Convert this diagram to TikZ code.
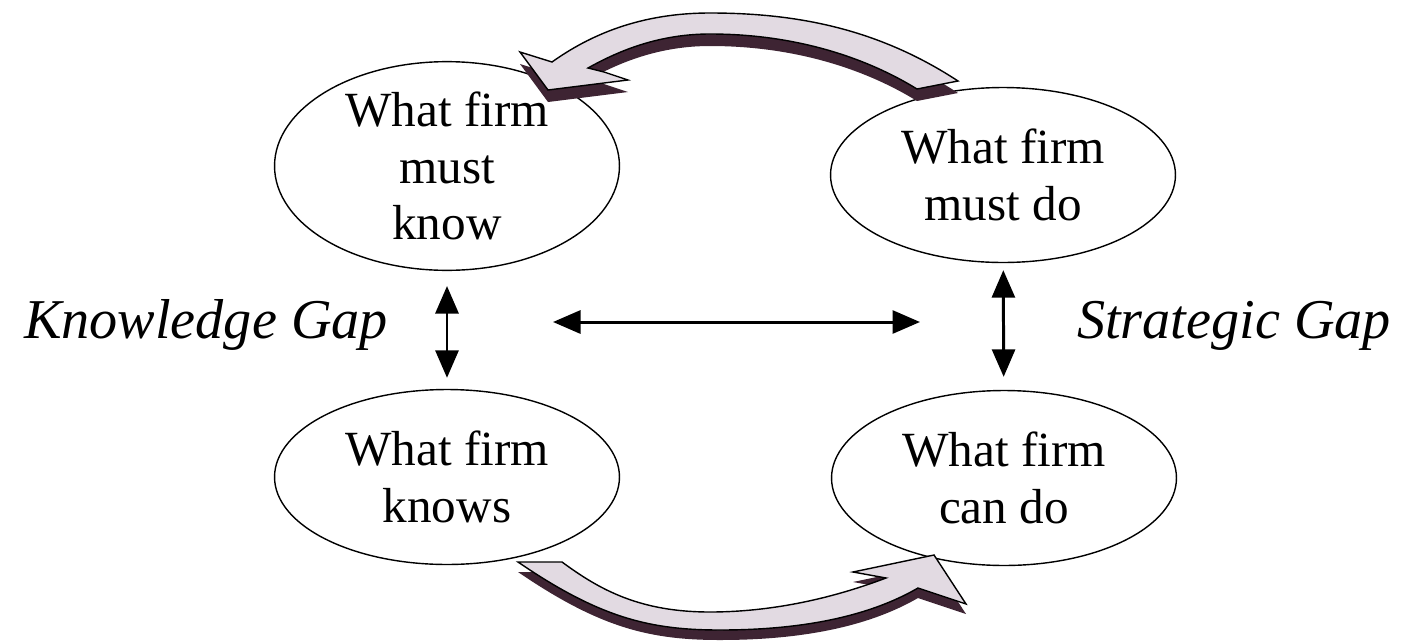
\documentclass[tikz,border=0pt]{standalone}
\usepackage{fontspec}
\setmainfont{Liberation Serif}
\usetikzlibrary{arrows.meta,shapes,positioning}
\usepackage{xcolor}
\definecolor{bandfill}{HTML}{E2DAE2}
\definecolor{bandshade}{HTML}{3E2433}

% outlines of the two curved arrows (pixel units)
\newcommand{\upperarc}{(958,81) .. controls (880,30) and (800,13) .. (710,13) .. controls (640,13) and (590,35) .. (552,62) -- (520,52) -- (548,90) -- (628,80) -- (604,72) -- (588,68) .. controls (620,50) and (660,34) .. (710,34) .. controls (800,34) and (870,60) .. (917,89) -- cycle}
\newcommand{\lowerarc}{(518,562) .. controls (600,618) and (650,630) .. (720,630) .. controls (820,630) and (880,610) .. (918,588) -- (966,604) -- (934,555) -- (853,572) -- (886,578) .. controls (820,603) and (760,612) .. (710,612) .. controls (640,612) and (600,590) .. (562,562) -- cycle}

\begin{document}
\begin{tikzpicture}[x=0.02cm, y=-0.02cm,
    every node/.style={font=\fontsize{28}{32}\selectfont},
    firm/.style={draw, ellipse, line width=0.8pt, minimum width=6.9cm, minimum height=3.5cm, inner sep=0pt, align=center},
    gap/.style={font=\fontsize{32}{36}\selectfont\itshape, anchor=base},
    link/.style={{Triangle[length=0.55cm, width=0.46cm]}-{Triangle[length=0.55cm, width=0.46cm]}, line width=1.7pt},
    band/.style={fill=bandfill, draw=black, line width=0.8pt},
    bandshadow/.style={fill=bandshade}]
    \useasboundingbox (0,0) rectangle (1407,643);

    % Ellipses
    \node[firm] (mustknow) at (447,166) {What firm\\must\\know};
    \node[firm] (mustdo) at (1003,175) {What firm\\must do};
    \node[firm] (knows) at (447,477) {What firm\\knows};
    \node[firm] (cando) at (1004,478) {What firm\\can do};

    % Gap labels
    \node[gap] (kgap) at (206,338) {Knowledge Gap};
    \node[gap] (sgap) at (1234,338) {Strategic Gap};

    % Double arrows
    \draw[link, shorten <=0.3cm, shorten >=0.22cm] (mustknow) -- (knows);
    \draw[link, shorten <=0.14cm, shorten >=0.26cm] (mustdo) -- (cando);
    \coordinate (hleft) at (553,322);
    \coordinate (hright) at (920,322);
    \draw[link] (hleft) -- (hright);

    % Curved arrows
    \fill[bandshadow, shift={(0,12)}] \upperarc;
    \filldraw[band] \upperarc;
    \fill[bandshadow, shift={(0,10)}] \lowerarc;
    \filldraw[band] \lowerarc;

\end{tikzpicture}
\end{document}
